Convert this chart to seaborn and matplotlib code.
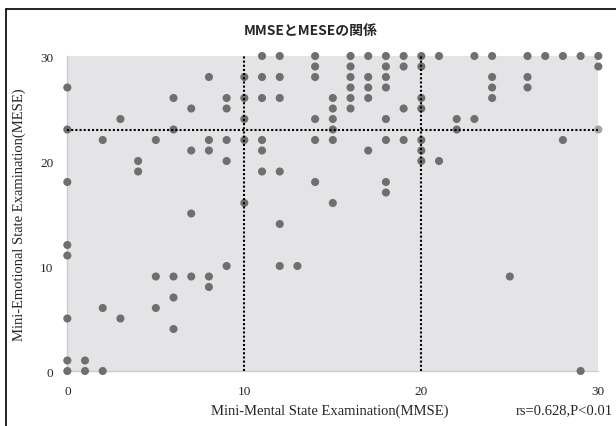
import matplotlib
matplotlib.use('Agg')
import matplotlib.pyplot as plt
import matplotlib.lines as mlines
import pandas as pd
import seaborn as sns

# MMSE (x) と MESE (y) のデータ
mmse = [0, 0, 0, 0, 0, 0, 0, 0,
        1, 1,
        2, 2, 2,
        3, 3,
        4, 4,
        5, 5, 5,
        6, 6, 6, 6, 6,
        7, 7, 7, 7,
        8, 8, 8, 8, 8,
        9, 9, 9, 9, 9,
        10, 10, 10, 10, 10,
        11, 11, 11, 11, 11, 11,
        12, 12, 12, 12, 12, 12,
        13,
        14, 14, 14, 14, 14, 14,
        15, 15, 15, 15, 15, 15,
        16, 16, 16, 16, 16, 16,
        17, 17, 17, 17, 17,
        18, 18, 18, 18, 18, 18, 18, 18,
        19, 19, 19, 19,
        20, 20, 20, 20, 20, 20, 20,
        21, 21,
        22, 22,
        23, 23,
        24, 24, 24, 24,
        25,
        26, 26, 26,
        27,
        28, 28,
        29, 29,
        30, 30]
mese = [27, 23, 18, 12, 11, 5, 1, 0,
        1, 0,
        22, 6, 0,
        24, 5,
        20, 19,
        22, 9, 6,
        26, 23, 9, 7, 4,
        25, 21, 15, 9,
        28, 22, 21, 9, 8,
        26, 25, 22, 20, 10,
        28, 26, 24, 22, 16,
        30, 28, 26, 22, 21, 19,
        30, 28, 26, 19, 14, 10,
        10,
        30, 29, 28, 24, 22, 18,
        26, 25, 24, 23, 22, 16,
        30, 29, 28, 27, 26, 25,
        30, 28, 27, 26, 21,
        30, 29, 28, 27, 24, 22, 18, 17,
        30, 29, 25, 22,
        30, 29, 26, 25, 22, 21, 20,
        30, 20,
        24, 23,
        30, 24,
        30, 28, 27, 26,
        9,
        30, 28, 27,
        30,
        30, 22,
        30, 0,
        30, 29]
# 薄く表示されている点
faint_mmse = [30]
faint_mese = [23]

cut_x = [10, 20]
cut_y = [23]

df = pd.DataFrame({'MMSE': mmse, 'MESE': mese})
df_faint = pd.DataFrame({'MMSE': faint_mmse, 'MESE': faint_mese})

sns.set_style('white')
plt.rcParams['font.family'] = ['Liberation Serif', 'DejaVu Serif']

fig = plt.figure(figsize=(6.16, 4.27), dpi=100)
ax = fig.add_axes([0.1093, 0.1288, 0.862, 0.7377])
ax.set_facecolor('#e4e4e6')

sns.scatterplot(data=df, x='MMSE', y='MESE', ax=ax, color='#6f6f6f', s=34,
                edgecolor='none', clip_on=False, zorder=3)
sns.scatterplot(data=df_faint, x='MMSE', y='MESE', ax=ax, color='#a3a3a5', s=34,
                edgecolor='none', clip_on=False, zorder=3)

for v in cut_x:
    ax.axvline(v, color='black', linestyle=(0, (1, 1)), linewidth=1.5, zorder=4)
for h in cut_y:
    ax.axhline(h, color='black', linestyle=(0, (1, 1)), linewidth=1.5, zorder=4)

ax.set_xlim(0, 30)
ax.set_ylim(0, 30)
ax.set_xticks([0, 10, 20, 30])
ax.set_yticks([0, 10, 20, 30])
ax.tick_params(length=0, labelsize=9.5, pad=10)

for side in ['top', 'right']:
    ax.spines[side].set_visible(False)
for side in ['left', 'bottom']:
    ax.spines[side].set_color('#cdcdcf')
    ax.spines[side].set_linewidth(1)

ax.set_xlabel('')
ax.set_ylabel('Mini-Emotional State Examination(MESE)', fontsize=10.5, labelpad=10)
fig.text(0.535, 0.022, 'Mini-Mental State Examination(MMSE)', fontsize=10.5,
         ha='center', va='bottom')
fig.text(0.995, 0.022, 'rs=0.628,P<0.01', fontsize=10.5, ha='right', va='bottom')

fig.text(0.505, 0.928, 'MMSEとMESEの関係', fontsize=10, fontweight='bold',
         ha='center', va='center', family=['Noto Sans CJK JP', 'DejaVu Sans'])

# 左と上の枠線
fig.add_artist(mlines.Line2D([6 / 616, 6 / 616], [0, 1 - 10 / 427],
                             transform=fig.transFigure, color='black', linewidth=1.2))
fig.add_artist(mlines.Line2D([6 / 616, 1], [1 - 10 / 427, 1 - 10 / 427],
                             transform=fig.transFigure, color='black', linewidth=1.2))

fig.savefig('out.png', dpi=100)
